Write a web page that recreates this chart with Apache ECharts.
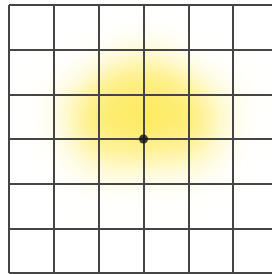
<!DOCTYPE html>
<html>
<head>
<meta charset="utf-8">
<script src="https://cdn.jsdelivr.net/npm/echarts@6/dist/echarts.min.js"></script>
<style>
  html, body { margin: 0; padding: 0; background: #fff; overflow: hidden; }
  #chart { width: 284px; height: 284px; }
</style>
</head>
<body>
<div id="chart"></div>
<script>
// grid is 6 x 6 cells, values in cell units (0..6)
var gridTicks = [0, 1, 2, 3, 4, 5, 6]
// yellow blob (x, y from bottom, weight)
var heatX = [3.0, 2.2, 3.8, 2.5, 3.5, 1.9, 4.1, 2.6, 3.4, 1.4, 4.7, 3.0, 1.9, 4.3]
var heatY = [3.5, 3.6, 3.6, 4.2, 4.2, 3.1, 3.1, 2.7, 2.7, 3.8, 3.8, 4.7, 2.5, 2.6]
var heatW = [10, 8, 8, 6, 6, 5, 5, 4, 4, 3, 3, 3, 2, 2]
// the black dot
var dotPoint = [3, 3]

var box = {
  type: 'FeatureCollection',
  features: [{
    type: 'Feature',
    properties: { name: 'box' },
    geometry: {
      type: 'Polygon',
      coordinates: [[[0, 0], [6, 0], [6, 6], [0, 6], [0, 0]]]
    }
  }]
}
echarts.registerMap('box', box)

var heatData = heatX.map(function (x, i) {
  return [x, heatY[i], heatW[i]]
})

var chart = echarts.init(document.getElementById('chart'))
chart.setOption({
  animation: false,
  backgroundColor: '#fff',
  geo: {
    map: 'box',
    left: 9,
    top: 5,
    width: 269,
    height: 268,
    aspectScale: 1,
    roam: false,
    silent: true,
    label: { show: false },
    itemStyle: { areaColor: 'transparent', borderWidth: 0 },
    emphasis: { disabled: true }
  },
  grid: {
    left: 9,
    top: 5,
    width: 269,
    height: 268
  },
  xAxis: {
    type: 'value',
    min: gridTicks[0],
    max: gridTicks[gridTicks.length - 1],
    interval: 1,
    z: 5,
    axisLine: { show: false },
    axisTick: { show: false },
    axisLabel: { show: false },
    splitLine: { lineStyle: { color: '#454545', width: 2 } }
  },
  yAxis: {
    type: 'value',
    min: gridTicks[0],
    max: gridTicks[gridTicks.length - 1],
    interval: 1,
    z: 5,
    axisLine: { show: false },
    axisTick: { show: false },
    axisLabel: { show: false },
    splitLine: { lineStyle: { color: '#454545', width: 2 } }
  },
  visualMap: {
    show: false,
    type: 'continuous',
    min: 0,
    max: 10,
    seriesIndex: 0,
    inRange: {
      color: ['#fffbe0', '#fff3a0', '#fee84f']
    }
  },
  series: [
    {
      type: 'heatmap',
      coordinateSystem: 'geo',
      data: heatData,
      pointSize: 34,
      blurSize: 40,
      z: 2
    },
    {
      type: 'scatter',
      data: [dotPoint],
      symbolSize: 9,
      itemStyle: { color: '#111' },
      silent: true,
      z: 6
    }
  ]
})
</script>
</body>
</html>
